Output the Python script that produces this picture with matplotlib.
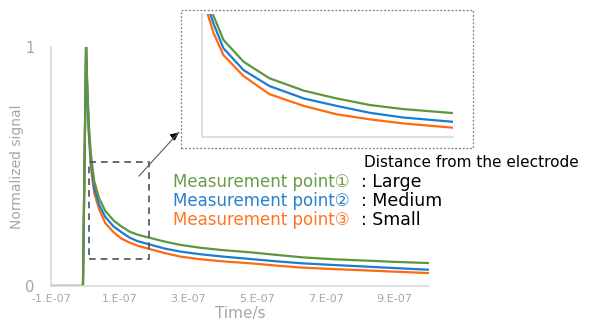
import matplotlib
matplotlib.use("Agg")
from matplotlib import pyplot as plt
from matplotlib.patches import Rectangle
import numpy as np

# time axis in units of 1e-7 s
time_e7 = [-1.0, -0.07, 0.02, 0.06, 0.10, 0.15, 0.19, 0.26, 0.40, 0.58, 0.82, 1.05, 1.28,
           1.51, 1.86, 2.3, 2.76, 3.34, 4.0, 4.8, 5.5, 6.3, 7.2, 8.2, 9.0, 10.0]
point1 = [0, 0, 1.0, 0.82, 0.68, 0.57, 0.515, 0.437, 0.367, 0.314, 0.274, 0.249, 0.228,
          0.215, 0.202, 0.186, 0.172, 0.160, 0.150, 0.141, 0.131, 0.120, 0.112, 0.106, 0.101, 0.096]
point2 = [0, 0, 1.0, 0.80, 0.65, 0.545, 0.49, 0.410, 0.340, 0.289, 0.249, 0.225, 0.203,
          0.188, 0.174, 0.157, 0.144, 0.133, 0.123, 0.113, 0.104, 0.095, 0.088, 0.081, 0.075, 0.068]
point3 = [0, 0, 1.0, 0.79, 0.63, 0.52, 0.46, 0.388, 0.321, 0.263, 0.225, 0.198, 0.182,
          0.169, 0.155, 0.138, 0.123, 0.112, 0.103, 0.095, 0.086, 0.077, 0.071, 0.065, 0.060, 0.054]

xticks = [-1e-7, 1e-7, 3e-7, 5e-7, 7e-7, 9e-7]
xtick_labels = ["-1.E-07", "1.E-07", "3.E-07", "5.E-07", "7.E-07", "9.E-07"]
labels = ["Measurement point\u2460", "Measurement point\u2461", "Measurement point\u2462"]
sizes = [": Large", ": Medium", ": Small"]

# zoom window
box_t = (0.11e-7, 1.86e-7)
box_y = (0.113, 0.52)

line_colors = ["#5E963C", "#1A7DD4", "#FF6A10"]
text_colors = ["#6A9C48", "#2A80D0", "#FF7424"]
gray = "#A6A6A6"
fonts = ["DejaVu Sans", "Noto Sans CJK JP"]

t = np.array(time_e7) * 1e-7
series = [point1, point2, point3]

fig = plt.figure(figsize=(6.02, 3.21), dpi=100)
ax = fig.add_axes([0.0847, 0.109, 0.628, 0.745])
for s, c in zip(series[::-1], line_colors[::-1]):
    ax.plot(t, s, color=c, lw=1.6)
ax.set_xlim(-1e-7, 1e-6)
ax.set_ylim(0, 1)
ax.set_xticks(xticks)
ax.set_xticklabels(xtick_labels, fontsize=8, color=gray)
ax.set_yticks([0, 1])
ax.set_yticklabels(["0", "1"], fontsize=10.5, color=gray)
ax.tick_params(length=0, pad=6)
ax.tick_params(axis="y", pad=12)
for sp in ["top", "right"]:
    ax.spines[sp].set_visible(False)
for sp in ["left", "bottom"]:
    ax.spines[sp].set_color("#D9D9D9")
    ax.spines[sp].set_linewidth(1.2)
ax.set_ylabel("Normalized signal", fontsize=10, color=gray)
ax.set_xlabel("Time/s", fontsize=11, color=gray)
ax.yaxis.set_label_coords(-0.072, 0.5)
ax.xaxis.set_label_coords(0.5, -0.085)

ax.add_patch(Rectangle((box_t[0], box_y[0]), box_t[1] - box_t[0], box_y[1] - box_y[0],
                       fill=False, ls=(0, (4, 3)), lw=1.2, ec="#44546A", zorder=5))

# inset
ins = fig.add_axes([0.3355, 0.573, 0.417, 0.383])
for s, c in zip(series[::-1], line_colors[::-1]):
    ins.plot(t, s, color=c, lw=1.6)
ins.set_xlim(box_t)
ins.set_ylim(0.125, 0.52)
ins.set_xticks([])
ins.set_yticks([])
for sp in ["top", "right"]:
    ins.spines[sp].set_visible(False)
for sp in ["left", "bottom"]:
    ins.spines[sp].set_color("#D9D9D9")
    ins.spines[sp].set_linewidth(1.2)

fig.add_artist(Rectangle((0.3007, 0.539), 0.485, 0.430, transform=fig.transFigure,
                         fill=False, ls=(0, (1.5, 1.5)), lw=0.9, ec="#7F7F7F"))

fig.add_artist(plt.Line2D([0.2309, 0.297], [0.4517, 0.588], transform=fig.transFigure,
                          color="#595959", lw=0.8))
ax.annotate("", xy=(0.3007, 0.5919), xytext=(0.285, 0.5700), xycoords="figure fraction",
            textcoords="figure fraction",
            arrowprops=dict(arrowstyle="-|>", color="black", lw=0.8, mutation_scale=12))

ys = [0.433, 0.374, 0.315]
for lab, sz, c, y in zip(labels, sizes, text_colors, ys):
    fig.text(0.287, y, lab, color=c, fontsize=12, family=fonts, va="center")
    fig.text(0.600, y, sz, color="black", fontsize=12.5, family=fonts, va="center")
fig.text(0.604, 0.495, "Distance from the electrode", color="black", fontsize=11,
         family=fonts, va="center")

fig.savefig("out.png", dpi=100)
